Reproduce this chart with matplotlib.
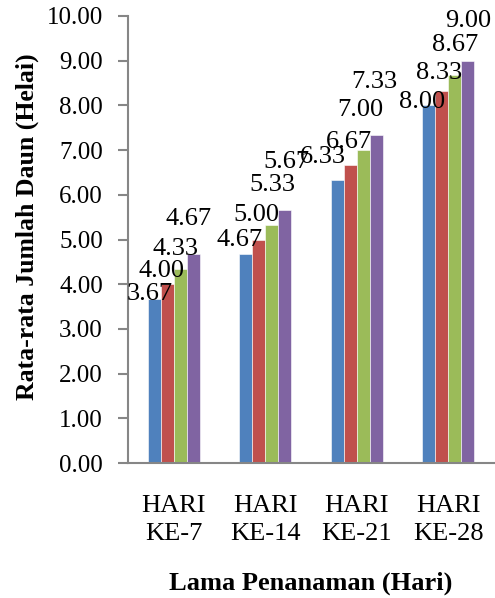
import numpy as np
import matplotlib.pyplot as plt

# data
categories = ["HARI\nKE-7", "HARI\nKE-14", "HARI\nKE-21", "HARI\nKE-28"]
series_a = [3.67, 4.67, 6.33, 8.00]
series_b = [4.00, 5.00, 6.67, 8.33]
series_c = [4.33, 5.33, 7.00, 8.67]
series_d = [4.67, 5.67, 7.33, 9.00]
yticks = [0, 1, 2, 3, 4, 5, 6, 7, 8, 9, 10]

colors = ["#4F81BD", "#C0504D", "#9BBB59", "#8064A2"]

# label nudges in pixels (rows = series, cols = groups), as laid out in the source chart
label_dx = [[-4.5, -6.5, -14, -6.5],
            [-5.5, -2, -1, -2.5],
            [-4.5, 0.5, -2.5, 0],
            [-4.5, 2, -1.5, 0]]
label_dy = [[7.6, 17, 26, 6],
            [16, 27, 25.5, 20],
            [23, 42, 42.5, 33],
            [38, 50, 56, 42]]

plt.rcParams["font.family"] = ["Liberation Serif", "DejaVu Serif"]
px = 72 / 100  # points per pixel
fs = 19

fig = plt.figure(figsize=(4.95, 5.98), dpi=100)
ax = fig.add_axes([128 / 495, 1 - 463 / 598, 366 / 495, (463 - 16) / 598])

x = np.arange(len(categories))
w = 0.142
all_series = [series_a, series_b, series_c, series_d]
for i, vals in enumerate(all_series):
    pos = x + (i - 1.5) * w
    ax.bar(pos, vals, w, color=colors[i], edgecolor="white", linewidth=0.4, zorder=2)
    for j, v in enumerate(vals):
        ax.annotate(f"{v:.2f}", (pos[j], v),
                    xytext=(label_dx[i][j] * px, (label_dy[i][j] - 8.5) * px),
                    textcoords="offset points", ha="center", va="baseline",
                    fontsize=fs, zorder=3, annotation_clip=False)

ax.set_xlim(-0.5, len(categories) - 0.5)
ax.set_ylim(0, 10)
ax.set_yticks(yticks)
ax.set_yticklabels([f"{t:.2f}" for t in yticks], fontsize=18)
ax.set_xticks(x)
ax.set_xticklabels(categories, fontsize=fs, linespacing=1.38)

for s in ["top", "right"]:
    ax.spines[s].set_visible(False)
for s in ["left", "bottom"]:
    ax.spines[s].set_color("#868686")
    ax.spines[s].set_linewidth(1.5)
ax.tick_params(axis="y", length=7, width=1.5, color="#868686", pad=11)
ax.tick_params(axis="x", length=0, pad=23)

fig.text(27 / 495, 1 - 227 / 598, "Rata-rata Jumlah Daun (Helai)", rotation=90,
         ha="center", va="center", fontsize=18.5, fontweight="bold")
fig.text(311 / 495, 1 - 583 / 598, "Lama Penanaman (Hari)",
         ha="center", va="center", fontsize=fs, fontweight="bold")

fig.savefig("out.png", dpi=100)
